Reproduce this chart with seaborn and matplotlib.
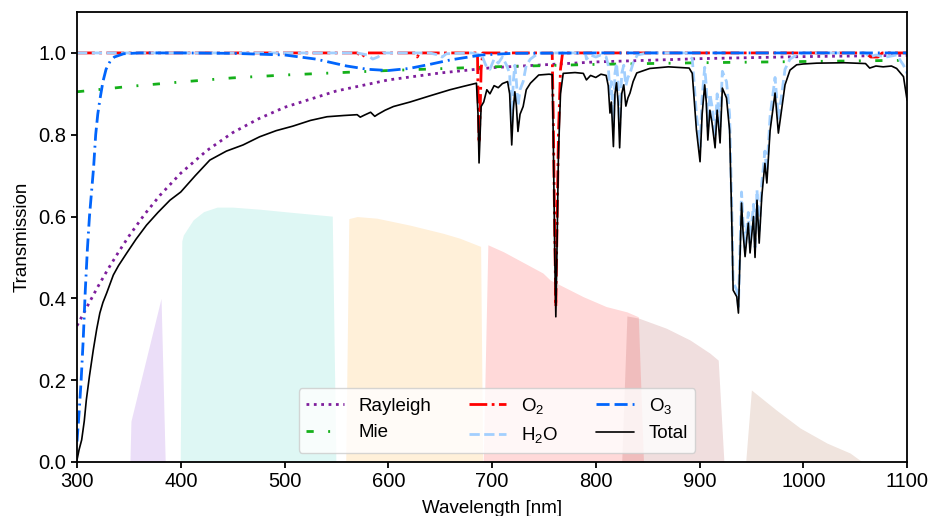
import numpy as np
import pandas as pd
import matplotlib
matplotlib.use("Agg")
import matplotlib.pyplot as plt
import seaborn as sns

#%% data
# Rayleigh scattering
wl_rayleigh = [300, 310, 320, 330, 340, 350, 365, 380, 400, 425, 450, 475, 500,
               550, 600, 650, 700, 800, 900, 1000, 1100]
t_rayleigh = [0.333, 0.381, 0.428, 0.472, 0.513, 0.552, 0.605, 0.652, 0.706, 0.761,
              0.805, 0.839, 0.867, 0.907, 0.934, 0.951, 0.964, 0.978, 0.986, 0.991, 0.994]

# Mie scattering
wl_mie = [300, 350, 400, 450, 500, 600, 700, 800, 900, 1000, 1100]
t_mie = [0.905, 0.918, 0.929, 0.939, 0.946, 0.957, 0.966, 0.972, 0.976, 0.979, 0.982]

# O2 absorption
wl_o2 = [300, 570, 575, 578, 626, 628, 630, 686, 686.5, 687.5, 688.5, 689.5, 691,
         758, 759, 760.5, 761.5, 762.5, 764, 766, 768, 1060, 1065, 1072, 1076, 1100]
t_o2 = [1.0, 1.0, 0.99, 1.0, 1.0, 0.99, 1.0, 1.0, 0.9, 0.78, 0.85, 0.96, 1.0,
        1.0, 0.85, 0.55, 0.38, 0.55, 0.8, 0.96, 1.0, 1.0, 0.99, 0.99, 1.0, 1.0]

# H2O absorption
wl_h2o = [300, 570, 580, 585, 590, 595, 640, 648, 652, 656, 680, 690, 694, 698, 702,
          706, 710, 714, 717, 719, 720.5, 722, 723.5, 725, 727, 730, 733, 737, 745,
          790, 791, 795, 800, 805, 810, 812, 813.7, 815, 817, 818.5, 820, 821.5, 823,
          825, 827, 829, 831, 833, 836, 840, 850, 888, 893, 895, 897, 900.5, 902.5,
          905, 906.5, 908, 910, 912, 915, 917, 919.8, 922, 926, 929, 931, 932.4,
          935.9, 937.5, 940.5, 942, 943.9, 947, 948.7, 952, 953.5, 955.4, 957.5, 960,
          963, 964.9, 968, 972.8, 976, 979, 982.4, 987.2, 993.6, 1000, 1060, 1064,
          1070, 1080, 1090, 1096.6, 1100]
t_h2o = [1.0, 1.0, 0.995, 0.985, 0.99, 1.0, 1.0, 0.995, 0.99, 0.998, 1.0, 0.995, 0.97,
         0.96, 0.985, 0.975, 0.99, 0.97, 0.95, 0.83, 0.93, 0.97, 0.93, 0.87, 0.91,
         0.93, 0.97, 0.985, 1.0, 1.0, 0.985, 0.995, 0.99, 0.995, 0.99, 0.97, 0.90,
         0.93, 0.82, 0.95, 0.975, 0.93, 0.815, 0.95, 0.97, 0.92, 0.94, 0.95, 0.975,
         0.995, 1.0, 1.0, 0.985, 0.92, 0.85, 0.77, 0.89, 0.965, 0.92, 0.82, 0.90,
         0.87, 0.80, 0.90, 0.82, 0.955, 0.93, 0.85, 0.63, 0.44, 0.42, 0.38, 0.66,
         0.585, 0.525, 0.61, 0.535, 0.63, 0.525, 0.665, 0.56, 0.68, 0.76, 0.71, 0.845,
         0.94, 0.84, 0.895, 0.96, 0.985, 0.995, 1.0, 1.0, 0.99, 0.995, 0.99, 0.995,
         0.97, 0.95]

# O3 absorption
wl_o3 = [300, 302, 304, 306, 308, 310, 312, 314, 316, 318, 320, 322, 325, 328, 332,
         336, 345, 360, 400, 450, 500, 530, 560, 580, 600, 620, 640, 660, 690, 720,
         800, 1100]
t_o3 = [0.05, 0.12, 0.2, 0.3, 0.42, 0.52, 0.6, 0.66, 0.72, 0.8, 0.85, 0.885, 0.93,
        0.96, 0.98, 0.99, 0.998, 1.0, 1.0, 0.999, 0.995, 0.985, 0.968, 0.96, 0.957,
        0.962, 0.972, 0.983, 0.995, 0.999, 1.0, 1.0]

# total transmission
wl_total = [300, 302, 304.5, 307, 309, 312, 315.7, 319, 322, 325, 328.6, 335, 340,
            348, 357, 367, 378, 389.6, 400, 414, 428, 444, 460, 476, 492, 508, 525,
            541, 557, 570, 573, 577, 583, 587, 590, 597, 605, 621, 640, 659.5, 672,
            685, 686.5, 687.5, 688.5, 689.5, 692, 695, 698, 702, 706, 710, 715, 717,
            719, 720.5, 722, 723.5, 725, 727, 730, 733, 737, 745, 755, 758, 759,
            760.5, 761.5, 762.5, 764, 766, 768.6, 780, 788, 791, 795, 800, 805, 810,
            812, 813.7, 815, 817, 818.5, 820, 821.5, 823, 825, 827, 829, 831, 833,
            836, 839.5, 852, 870, 890, 893, 895, 897, 900.5, 902.5, 905, 906.5, 908,
            910, 912, 915, 917, 919.8, 922, 926, 929, 931, 932.4, 935.9, 937.5,
            940.5, 942, 943.9, 947, 948.7, 952, 953.5, 955.4, 957.5, 960, 963, 964.9,
            968, 972.8, 976, 979, 982.4, 987.2, 993.6, 1000, 1013, 1040, 1060, 1064,
            1070, 1077, 1085, 1090, 1096.6, 1100]
t_total = [0.005, 0.03, 0.054, 0.10, 0.152, 0.21, 0.274, 0.325, 0.364, 0.39, 0.413,
           0.457, 0.48, 0.511, 0.545, 0.579, 0.61, 0.64, 0.66, 0.70, 0.738, 0.76,
           0.775, 0.795, 0.81, 0.821, 0.835, 0.844, 0.847, 0.849, 0.843, 0.848, 0.855,
           0.845, 0.85, 0.86, 0.869, 0.88, 0.895, 0.91, 0.918, 0.926, 0.85, 0.731,
           0.80, 0.869, 0.88, 0.91, 0.90, 0.92, 0.915, 0.925, 0.93, 0.90, 0.775, 0.86,
           0.905, 0.87, 0.808, 0.85, 0.869, 0.91, 0.926, 0.946, 0.948, 0.947, 0.80,
           0.50, 0.355, 0.50, 0.75, 0.90, 0.95, 0.952, 0.95, 0.934, 0.945, 0.94,
           0.948, 0.945, 0.92, 0.853, 0.88, 0.771, 0.90, 0.927, 0.88, 0.768, 0.90,
           0.922, 0.87, 0.89, 0.902, 0.93, 0.951, 0.962, 0.966, 0.963, 0.95, 0.88,
           0.812, 0.734, 0.85, 0.922, 0.88, 0.787, 0.86, 0.83, 0.768, 0.86, 0.78,
           0.914, 0.89, 0.81, 0.60, 0.42, 0.404, 0.364, 0.633, 0.56, 0.502, 0.584,
           0.511, 0.60, 0.50, 0.64, 0.535, 0.649, 0.73, 0.682, 0.81, 0.902, 0.804,
           0.86, 0.922, 0.958, 0.971, 0.973, 0.975, 0.976, 0.974, 0.963, 0.968,
           0.966, 0.968, 0.962, 0.942, 0.885]

# filter passbands (shaded)
wl_band_u = [351, 352, 381, 385]
t_band_u = [0, 0.10, 0.40, 0]
wl_band_b = [399.5, 401, 402.5, 412, 422, 435, 450, 476, 508, 546, 549.5]
t_band_b = [0, 0.54, 0.555, 0.592, 0.612, 0.623, 0.623, 0.618, 0.61, 0.601, 0]
wl_band_v = [559, 562, 570, 589, 621, 653, 669, 689, 691]
t_band_v = [0, 0.595, 0.6, 0.596, 0.579, 0.559, 0.547, 0.527, 0]
wl_band_r = [691.5, 696, 711, 749, 756, 788, 810, 830, 841, 846]
t_band_r = [0, 0.531, 0.514, 0.462, 0.445, 0.404, 0.38, 0.367, 0.355, 0]
wl_band_i = [825, 830, 841, 868, 891, 910, 918, 923.5]
t_band_i = [0, 0.357, 0.352, 0.327, 0.298, 0.266, 0.249, 0]
wl_band_z = [944.5, 950, 974, 997, 1023, 1045, 1057]
t_band_z = [0, 0.176, 0.127, 0.083, 0.046, 0.022, 0]

#%% style
sns.set_style("ticks")
plt.rcParams["font.family"] = ["Liberation Sans", "DejaVu Sans"]
plt.rcParams["mathtext.default"] = "regular"
plt.rcParams["font.size"] = 13.5
plt.rcParams["xtick.labelsize"] = 14.5
plt.rcParams["ytick.labelsize"] = 14.5
for key in ["text.color", "axes.labelcolor", "xtick.color", "ytick.color", "axes.edgecolor"]:
    plt.rcParams[key] = "black"
plt.rcParams["axes.linewidth"] = 1.3
plt.rcParams["xtick.major.width"] = 1.3
plt.rcParams["ytick.major.width"] = 1.3
plt.rcParams["xtick.major.size"] = 4
plt.rcParams["ytick.major.size"] = 4

fig, ax = plt.subplots(figsize=(9.3, 5.16), dpi=100)
fig.subplots_adjust(left=0.0828, right=0.9753, bottom=0.1047, top=0.9767)

# passbands
bands = [
    (wl_band_u, t_band_u, "#7a23d0"),
    (wl_band_b, t_band_b, "#23cab6"),
    (wl_band_v, t_band_v, "#ff9b02"),
    (wl_band_r, t_band_r, "#ff0000"),
    (wl_band_i, t_band_i, "#9b2323"),
    (wl_band_z, t_band_z, "#9b4b23"),
]
for bx, by, bc in bands:
    ax.fill_between(bx, by, 0, color=bc, alpha=0.15, lw=0)

# transmission curves
sns.lineplot(x=wl_rayleigh, y=t_rayleigh, ax=ax, color="#7e1e9c", lw=2,
             linestyle=(0, (1, 1.65)), label="Rayleigh")
sns.lineplot(x=wl_mie, y=t_mie, ax=ax, color="#15b01a", lw=2,
             linestyle=(0, (2.6, 5.2, 0.7, 5.2)), label="Mie")
sns.lineplot(x=wl_o2, y=t_o2, ax=ax, color="#ff0000", lw=2,
             linestyle=(0, (6.4, 1.6, 1, 1.6)), label="O$_2$")
sns.lineplot(x=wl_h2o, y=t_h2o, ax=ax, color="#a2cffe", lw=2,
             linestyle=(0, (3.7, 1.6)), label="H$_2$O")
sns.lineplot(x=wl_o3, y=t_o3, ax=ax, color="#0165fc", lw=2,
             linestyle=(0, (4.7, 1.8, 4.7, 1.8, 0.7, 1.8)), label="O$_3$")
sns.lineplot(x=wl_total, y=t_total, ax=ax, color="black", lw=1.2, label="Total")

ax.set_xlim(300, 1100)
ax.set_ylim(0, 1.1)
ax.set_xticks(np.arange(300, 1101, 100))
ax.set_yticks(np.arange(0, 1.01, 0.2))
ax.set_xlabel("Wavelength [nm]", labelpad=6)
ax.set_ylabel("Transmission", labelpad=6)
ax.legend(loc="lower center", ncol=3, bbox_to_anchor=(0.506, 0.0))

plt.savefig("out.png", dpi=100)
